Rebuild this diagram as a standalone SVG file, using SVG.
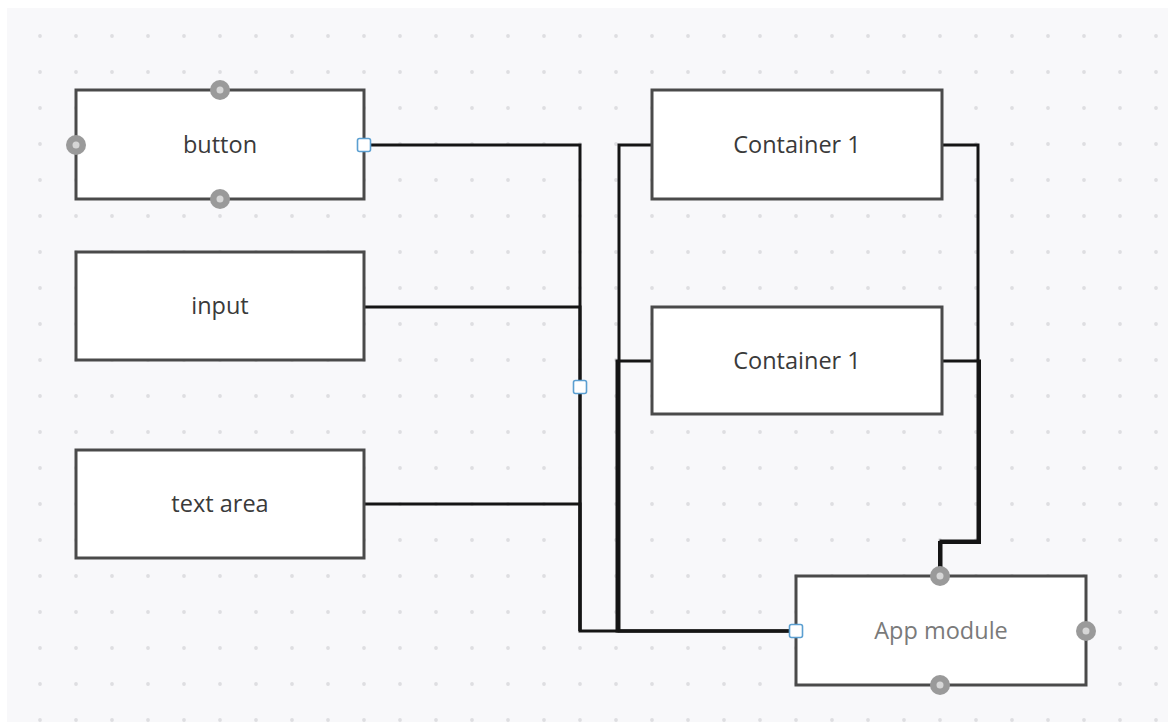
<svg xmlns="http://www.w3.org/2000/svg" width="1168" height="722" viewBox="0 0 1168 722">
  <defs>
    <pattern id="grid" patternUnits="userSpaceOnUse" x="-14" y="-18" width="36" height="36">
      <circle cx="18" cy="18" r="1.9" fill="#dedee1"/>
    </pattern>
    <style>
      .box { fill: #ffffff; stroke: #4a4a4a; stroke-width: 3; }
      .label { font-family: "Open Sans", "Noto Sans", "Liberation Sans", sans-serif; font-size: 23.5px; fill: #3a3a3a; text-anchor: middle; }
      .label.muted { fill: #7a7a7a; }
      .wire { fill: none; stroke: #151515; stroke-width: 3; stroke-linejoin: miter; }
      .port-ring { fill: #9a9a9a; }
      .port-core { fill: #d6d6d6; }
      .anchor { fill: #ffffff; stroke: #5b9fd1; stroke-width: 1.6; }
    </style>
  </defs>

  <!-- canvas -->
  <rect x="0" y="0" width="1168" height="722" fill="#ffffff"/>
  <rect x="7" y="8" width="1161" height="714" fill="#f8f8fa"/>
  <rect x="7" y="8" width="1161" height="714" fill="url(#grid)"/>

  <!-- connectors -->
  <g id="connectors">
    <path class="wire" d="M364 145 H580 V631 H796"/>
    <path class="wire" d="M364 307 H580 V631"/>
    <path class="wire" d="M364 504 H580 V631"/>
    <path class="wire" d="M652 145 H619 V631 H796"/>
    <path class="wire" d="M652 361 H617 V631 H796"/>
    <path class="wire" d="M942 145 H978 V541 H941 V576"/>
    <path class="wire" d="M942 361 H979.5 V542.5 H939.5 V576"/>
    <rect class="anchor" x="573.5" y="380.5" width="13" height="13" rx="2"/>
  </g>

  <g id="node-button">
    <rect class="box" x="76" y="90" width="288" height="109"/>
    <text class="label" x="220" y="153">button</text>
    <circle class="port-ring" cx="220" cy="90" r="10"/>
    <circle class="port-core" cx="220" cy="90" r="3.5"/>
    <circle class="port-ring" cx="220" cy="199" r="10"/>
    <circle class="port-core" cx="220" cy="199" r="3.5"/>
    <circle class="port-ring" cx="76" cy="145" r="10"/>
    <circle class="port-core" cx="76" cy="145" r="3.5"/>
    <rect class="anchor" x="357.5" y="138.5" width="13" height="13" rx="2"/>
  </g>

  <g id="node-input">
    <rect class="box" x="76" y="252" width="288" height="108"/>
    <text class="label" x="220" y="314">input</text>
  </g>

  <g id="node-textarea">
    <rect class="box" x="76" y="450" width="288" height="108"/>
    <text class="label" x="220" y="512">text area</text>
  </g>

  <g id="node-container-a">
    <rect class="box" x="652" y="90" width="290" height="109"/>
    <text class="label" x="797" y="153">Container 1</text>
  </g>

  <g id="node-container-b">
    <rect class="box" x="652" y="307" width="290" height="107"/>
    <text class="label" x="797" y="369">Container 1</text>
  </g>

  <g id="node-app-module">
    <rect class="box" x="796" y="576" width="290" height="109"/>
    <text class="label muted" x="941" y="639">App module</text>
    <circle class="port-ring" cx="940" cy="576" r="10"/>
    <circle class="port-core" cx="940" cy="576" r="3.5"/>
    <circle class="port-ring" cx="940" cy="685" r="10"/>
    <circle class="port-core" cx="940" cy="685" r="3.5"/>
    <circle class="port-ring" cx="1086" cy="631" r="10"/>
    <circle class="port-core" cx="1086" cy="631" r="3.5"/>
    <rect class="anchor" x="789.5" y="624.5" width="13" height="13" rx="2"/>
  </g>
</svg>
